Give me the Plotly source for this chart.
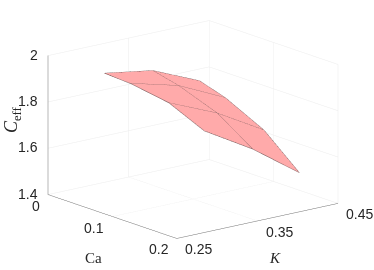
import plotly.graph_objects as go

ca = [0.0, 0.04, 0.1, 0.155]
k = [0.32, 0.38, 0.438]
ceff = [
    [1.871, 1.837, 1.749],
    [1.865, 1.810, 1.714],
    [1.838, 1.748, 1.631],
    [1.769, 1.645, 1.499],
]
ca_ticks = [0, 0.1, 0.2]
k_ticks = [0.25, 0.35, 0.45]
z_ticks = [1.4, 1.6, 1.8, 2]
FACE = "#ffaaaa"
EDGE = "#6e5656"
GRID = "#ececec"
SPINE = "#707070"
TEXT = "#262626"

fig = go.Figure()
fig.add_trace(go.Surface(
    x=ca, y=k, z=[list(c) for c in zip(*ceff)], surfacecolor=[[0] * 4] * 3,
    colorscale=[[0, FACE], [1, FACE]], showscale=False,
    lighting=dict(ambient=1, diffuse=0, specular=0, roughness=1, fresnel=0),
    hoverinfo="skip",
))
for i, c in enumerate(ca):
    fig.add_trace(go.Scatter3d(x=[c] * 3, y=k, z=ceff[i], mode="lines",
                               line=dict(color=EDGE, width=1), showlegend=False, hoverinfo="skip"))
for j, kv in enumerate(k):
    fig.add_trace(go.Scatter3d(x=ca, y=[kv] * 4, z=[row[j] for row in ceff], mode="lines",
                               line=dict(color=EDGE, width=1), showlegend=False, hoverinfo="skip"))


def ax(rng, ticks):
    return dict(range=rng, autorange=False, tickmode="array", tickvals=ticks, ticktext=[str(t) for t in ticks],
                title=dict(text=""), showgrid=True, gridcolor=GRID, gridwidth=1,
                showline=True, linecolor=SPINE, linewidth=1, zeroline=False, showbackground=False,
                ticks="", showticklabels=False, showspikes=False)


def tick_note(x, y, z, text, dx, dy):
    return dict(x=x, y=y, z=z, text=str(text), showarrow=False, xanchor="center", yanchor="middle",
                xshift=dx, yshift=-dy, font=dict(family="Liberation Sans", size=14, color=TEXT))


notes = []
for t in z_ticks:
    notes.append(dict(x=ca_ticks[0], y=k_ticks[0], z=t, text=str(t), showarrow=False, xanchor="right",
                      yanchor="middle", xshift=-8, yshift=1,
                      font=dict(family="Liberation Sans", size=14, color=TEXT)))
for t, dx in zip(ca_ticks, (-12, -18, -18)):
    notes.append(tick_note(t, k_ticks[0], z_ticks[0], t, dx, 11))
for t in k_ticks:
    notes.append(tick_note(ca_ticks[-1], t, z_ticks[0], t, 22, 11))

s = 1.698
fig.update_layout(
    width=374, height=270, margin=dict(l=0, r=0, t=0, b=0),
    paper_bgcolor="white", showlegend=False,
    scene=dict(
        domain=dict(x=[0.032, 1.0], y=[0.0704, 0.9704]),
        xaxis=ax([0, 0.2], ca_ticks),
        yaxis=ax([0.25, 0.45], k_ticks),
        zaxis=ax([1.4, 2], z_ticks),
        aspectmode="manual", aspectratio=dict(x=s, y=s, z=0.7 * s),
        camera=dict(projection=dict(type="orthographic"),
                    eye=dict(x=0.751, y=-0.600, z=0.272),
                    center=dict(x=0, y=0, z=0), up=dict(x=0, y=0, z=1)),
        annotations=notes,
    ),
    annotations=[
        dict(text="Ca", x=93 / 374, y=1 - 258 / 270, xref="paper", yref="paper", showarrow=False,
             xanchor="center", yanchor="middle",
             font=dict(family="Liberation Serif", size=15, color=TEXT)),
        dict(text="<i>K</i>", x=275 / 374, y=1 - 258 / 270, xref="paper", yref="paper", showarrow=False,
             xanchor="center", yanchor="middle",
             font=dict(family="Liberation Serif", size=15, color=TEXT)),
        dict(text="<i>C</i><sub>eff</sub>", x=12 / 374, y=1 - 120 / 270, xref="paper", yref="paper",
             xanchor="center", yanchor="middle",
             showarrow=False, textangle=-90,
             font=dict(family="Liberation Serif", size=18, color=TEXT)),
    ],
)
fig.write_html("out.html", post_script="document.body.style.margin='0';", config={"displayModeBar": False})
